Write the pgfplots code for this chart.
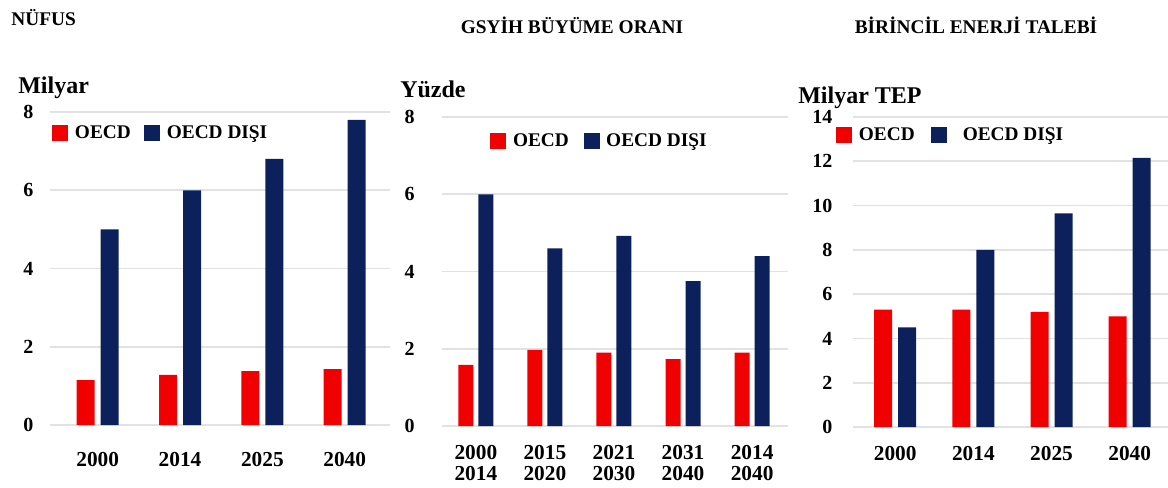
\documentclass[border=0pt]{standalone}
\usepackage{pgfplots}
\pgfplotsset{compat=1.18}
\usepackage{fontspec}
\setmainfont{Liberation Serif}
\definecolor{oecdred}{RGB}{240,0,0}
\definecolor{navy}{RGB}{12,32,92}
\definecolor{gridgray}{RGB}{226,226,226}
\pgfplotsset{
  panel/.style={
    scale only axis, ymin=0,
    axis line style={draw=none}, major tick length=0pt,
    ymajorgrids, grid style={gridgray, line width=1.3pt},
    /pgf/number format/assume math mode=true,
    yticklabel style={font=\fontsize{15}{15}\selectfont\bfseries},
    xticklabel style={font=\fontsize{16}{16}\selectfont\bfseries, align=center},
    xtick={0,1,2,3,4},
    legend columns=2,
    legend style={draw=none, fill=none, inner sep=0pt, anchor=west,
      font=\fontsize{14.5}{15}\selectfont\bfseries,
      /tikz/every even column/.style={column sep=8pt},
      /tikz/every odd column/.style={column sep=3pt}},
    legend image code/.code={\fill[##1] (0pt,-6pt) rectangle (12pt,6pt);},
  }
}
\begin{document}
\begin{tikzpicture}
\useasboundingbox (0pt,0pt) rectangle (876pt,365.25pt);

% Panel 1
\begin{axis}[panel, at={(37.5pt,46.5pt)}, anchor=south west,
  width=255pt, height=234.75pt,
  xmin=-0.58, xmax=3.55, ymax=8, ytick={0,2,4,6,8},
  xticklabels={2000,2014,2025,2040},
  yticklabel style={xshift=-9pt},
  xticklabel style={yshift=-17pt},
  legend style={at={(rel axis cs:0.006,0.933)}}]
\addplot[ybar, bar width=13.5pt, bar shift=-9pt, fill=oecdred, draw=none]
  coordinates {(0,1.15) (1,1.28) (2,1.38) (3,1.43)};
\addplot[ybar, bar width=13.5pt, bar shift=9pt, fill=navy, draw=none]
  coordinates {(0,5.0) (1,6.0) (2,6.8) (3,7.8)};
\legend{OECD, OECD DIŞI}
\end{axis}

% Panel 2
\begin{axis}[panel, at={(331.5pt,45.75pt)}, anchor=south west,
  width=259.5pt, height=231.75pt,
  xmin=-0.49, xmax=4.52, ymax=8, ytick={0,2,4,6,8},
  xticklabels={{2000\\2014},{2015\\2020},{2021\\2030},{2031\\2040},{2014\\2040}},
  yticklabel style={xshift=-17pt},
  xticklabel style={yshift=-11pt},
  legend style={at={(rel axis cs:0.139,0.922)},
    /tikz/every even column/.style={column sep=9pt}}]
\addplot[ybar, bar width=11.25pt, bar shift=-7.5pt, fill=oecdred, draw=none]
  coordinates {(0,1.58) (1,1.97) (2,1.9) (3,1.73) (4,1.9)};
\addplot[ybar, bar width=11.25pt, bar shift=7.5pt, fill=navy, draw=none]
  coordinates {(0,6.0) (1,4.6) (2,4.92) (3,3.75) (4,4.4)};
\legend{OECD, OECD DIŞI}
\end{axis}

% Panel 3
\begin{axis}[panel, at={(639.75pt,45pt)}, anchor=south west,
  width=236.25pt, height=232.5pt,
  xmin=-0.54, xmax=3.49, ymax=14, ytick={0,2,4,6,8,10,12,14},
  xticklabels={2000,2014,2025,2040},
  yticklabel style={xshift=-12pt},
  xticklabel style={yshift=-11pt},
  legend style={at={(rel axis cs:-0.054,0.942)},
    /tikz/every even column/.style={column sep=10pt}}]
\addplot[ybar, bar width=13.5pt, bar shift=-9pt, fill=oecdred, draw=none]
  coordinates {(0,5.3) (1,5.3) (2,5.2) (3,5.0)};
\addplot[ybar, bar width=13.5pt, bar shift=9pt, fill=navy, draw=none]
  coordinates {(0,4.5) (1,8.0) (2,9.65) (3,12.15)};
\legend{OECD, \hspace*{7pt}OECD DIŞI}
\end{axis}

% Titles and units
\node[anchor=west, font=\fontsize{14.5}{14.5}\selectfont\bfseries] at (5pt,351.75pt) {NÜFUS};
\node[font=\fontsize{14.5}{14.5}\selectfont\bfseries] at (429pt,346.5pt) {GSYİH BÜYÜME ORANI};
\node[font=\fontsize{14.5}{14.5}\selectfont\bfseries] at (732pt,346.5pt) {BİRİNCİL ENERJİ TALEBİ};
\node[anchor=base west, inner sep=0pt, font=\fontsize{18}{18}\selectfont\bfseries] at (13.5pt,295.5pt) {Milyar};
\node[anchor=base west, inner sep=0pt, font=\fontsize{18}{18}\selectfont\bfseries] at (300pt,292.5pt) {Yüzde};
\node[anchor=base west, inner sep=0pt, font=\fontsize{18}{18}\selectfont\bfseries] at (598.5pt,288pt) {Milyar TEP};
\end{tikzpicture}
\end{document}
